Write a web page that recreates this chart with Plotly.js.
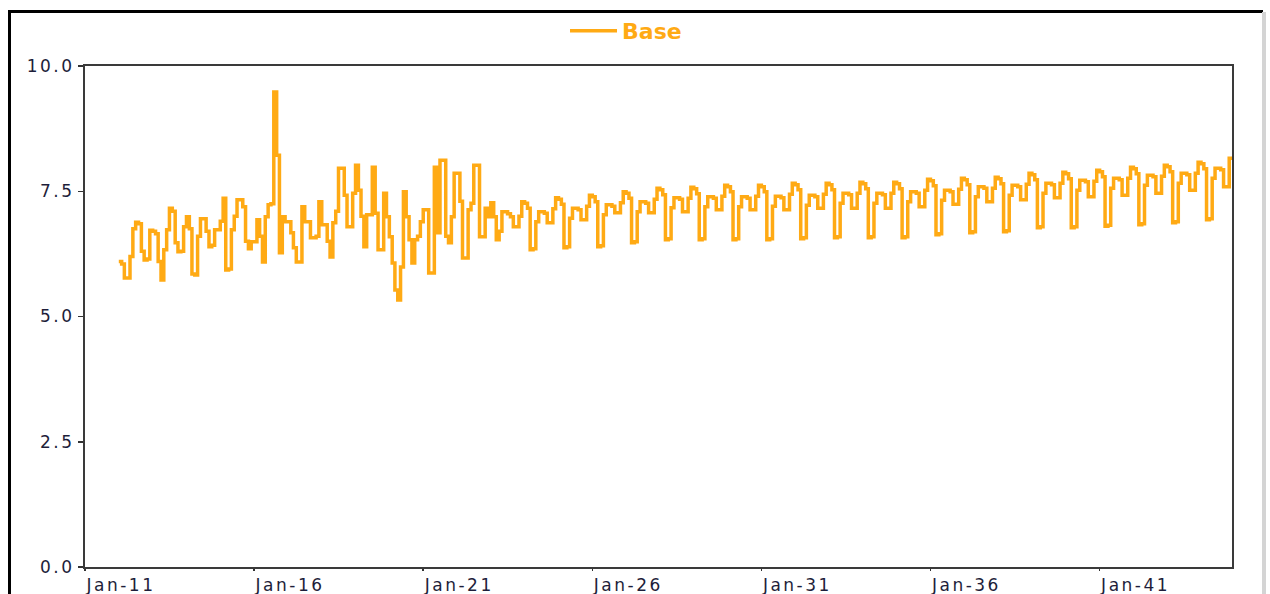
<!DOCTYPE html>
<html>
<head>
<meta charset="utf-8">
<script src="https://cdn.plot.ly/plotly-3.0.1.min.js"></script>
<style>
  html, body { margin: 0; padding: 0; background: #fff; }
  #wrap { position: relative; width: 1270px; height: 594px; overflow: hidden; }
  #chart { position: absolute; left: 0; top: 0; width: 1270px; height: 594px; }
  #frame { position: absolute; left: 8px; top: 10px; width: 1252px; height: 600px;
           border-left: 3px solid #000; border-top: 3px solid #000; pointer-events: none; }
  #edge { position: absolute; left: 1262px; top: 12px; width: 4px; height: 600px;
          background: #d4d4d4; pointer-events: none; }
  #chart .xtick text, #chart .ytick text { letter-spacing: 2.5px; }
</style>
</head>
<body>
<div id="wrap">
  <div id="chart"></div>
  <div id="frame"></div>
  <div id="edge"></div>
</div>
<script>
// Monthly values (Jan..Dec) of series "Base"
const seriesName = "Base";
const y2012 = [6.10, 6.05, 5.77, 5.77, 6.20, 6.75, 6.88, 6.85, 6.30, 6.13, 6.15, 6.72];
const y2013 = [6.70, 6.65, 6.10, 5.73, 6.33, 6.73, 7.16, 7.10, 6.47, 6.29, 6.30, 6.79];
const y2014 = [6.99, 6.75, 5.85, 5.83, 6.60, 6.95, 6.95, 6.70, 6.39, 6.42, 6.73, 6.73];
const y2015 = [6.90, 7.36, 5.93, 5.95, 6.73, 7.00, 7.33, 7.33, 7.19, 6.50, 6.35, 6.49];
const y2016 = [6.49, 6.93, 6.60, 6.09, 6.99, 7.23, 7.25, 9.48, 8.22, 6.27, 6.99, 6.89];
const y2017 = [6.89, 6.67, 6.37, 6.09, 6.09, 7.19, 6.89, 6.89, 6.57, 6.57, 6.60, 7.29];
const y2018 = [6.83, 6.83, 6.50, 6.19, 6.87, 7.10, 7.96, 7.96, 7.42, 6.79, 6.79, 7.46];
const y2019 = [8.02, 7.52, 7.00, 6.39, 7.03, 7.03, 7.98, 7.06, 6.33, 6.33, 7.46, 6.99];
const y2020 = [6.59, 6.07, 5.53, 5.33, 5.99, 7.49, 6.99, 6.53, 6.07, 6.53, 6.60, 6.89];
const y2021 = [7.13, 7.13, 5.87, 5.87, 7.98, 6.67, 8.12, 8.12, 6.60, 6.47, 6.99, 7.86];
const y2022 = [7.86, 7.30, 6.17, 6.17, 7.13, 7.26, 8.02, 8.02, 6.59, 6.59, 7.16, 6.99];
const y2023 = [7.27, 6.99, 6.53, 6.70, 7.09, 7.09, 7.05, 6.99, 6.79, 6.79, 7.00, 7.29];
const y2024 = [7.26, 7.16, 6.33, 6.35, 6.89, 7.09, 7.09, 7.06, 6.87, 6.87, 7.15, 7.37];
const y2025 = [7.34, 7.24, 6.37, 6.39, 6.96, 7.16, 7.16, 7.13, 6.93, 6.93, 7.20, 7.42];
const y2026 = [7.39, 7.29, 6.39, 6.41, 7.03, 7.23, 7.23, 7.20, 7.07, 7.07, 7.27, 7.49];
const y2027 = [7.46, 7.36, 6.47, 6.49, 7.09, 7.29, 7.29, 7.26, 7.07, 7.07, 7.34, 7.56];
const y2028 = [7.53, 7.43, 6.53, 6.55, 7.17, 7.37, 7.37, 7.34, 7.09, 7.09, 7.36, 7.58];
const y2029 = [7.55, 7.45, 6.53, 6.55, 7.19, 7.39, 7.39, 7.36, 7.13, 7.13, 7.40, 7.62];
const y2030 = [7.59, 7.49, 6.53, 6.55, 7.19, 7.39, 7.39, 7.36, 7.13, 7.13, 7.40, 7.62];
const y2031 = [7.59, 7.49, 6.53, 6.55, 7.20, 7.40, 7.40, 7.37, 7.13, 7.13, 7.44, 7.66];
const y2032 = [7.63, 7.53, 6.55, 6.57, 7.22, 7.42, 7.42, 7.39, 7.16, 7.16, 7.44, 7.66];
const y2033 = [7.63, 7.53, 6.57, 6.59, 7.26, 7.46, 7.46, 7.43, 7.16, 7.16, 7.46, 7.68];
const y2034 = [7.65, 7.55, 6.57, 6.59, 7.26, 7.46, 7.46, 7.43, 7.16, 7.16, 7.46, 7.68];
const y2035 = [7.65, 7.55, 6.57, 6.59, 7.29, 7.49, 7.49, 7.46, 7.19, 7.19, 7.52, 7.74];
const y2036 = [7.71, 7.61, 6.63, 6.65, 7.32, 7.52, 7.52, 7.49, 7.24, 7.24, 7.54, 7.76];
const y2037 = [7.73, 7.63, 6.67, 6.69, 7.39, 7.59, 7.59, 7.56, 7.29, 7.29, 7.56, 7.78];
const y2038 = [7.75, 7.65, 6.69, 6.71, 7.42, 7.62, 7.62, 7.59, 7.33, 7.33, 7.64, 7.86];
const y2039 = [7.83, 7.73, 6.77, 6.79, 7.46, 7.66, 7.66, 7.63, 7.37, 7.37, 7.66, 7.88];
const y2040 = [7.85, 7.75, 6.77, 6.79, 7.52, 7.72, 7.72, 7.69, 7.39, 7.39, 7.70, 7.92];
const y2041 = [7.89, 7.79, 6.80, 6.82, 7.56, 7.76, 7.76, 7.73, 7.42, 7.42, 7.76, 7.98];
const y2042 = [7.95, 7.85, 6.83, 6.85, 7.62, 7.82, 7.82, 7.79, 7.46, 7.46, 7.80, 8.02];
const y2043 = [7.99, 7.89, 6.87, 6.89, 7.66, 7.86, 7.86, 7.83, 7.52, 7.52, 7.86, 8.08];
const y2044 = [8.05, 7.95, 6.93, 6.95, 7.76, 7.96, 7.96, 7.93, 7.59, 7.59, 8.16, 8.16];

const years = [2012, 2013, 2014, 2015, 2016, 2017, 2018, 2019, 2020, 2021, 2022,
               2023, 2024, 2025, 2026, 2027, 2028, 2029, 2030, 2031, 2032, 2033,
               2034, 2035, 2036, 2037, 2038, 2039, 2040, 2041, 2042, 2043, 2044];
const yearValues = [y2012, y2013, y2014, y2015, y2016, y2017, y2018, y2019, y2020, y2021, y2022,
                    y2023, y2024, y2025, y2026, y2027, y2028, y2029, y2030, y2031, y2032, y2033,
                    y2034, y2035, y2036, y2037, y2038, y2039, y2040, y2041, y2042, y2043, y2044];
const yTickVals = [0, 2.5, 5, 7.5, 10];

const xs = [], ys = [];
years.forEach((yr, k) => {
  yearValues[k].forEach((v, m) => {
    xs.push(yr + "-" + String(m + 1).padStart(2, "0") + "-01");
    ys.push(v);
  });
});

const orange = "#FFAA14";
const tickFont = { family: "DejaVu Sans, sans-serif", size: 17, color: "#1e1e3a" };

Plotly.newPlot("chart", [{
  x: xs, y: ys, type: "scatter", mode: "lines", name: seriesName,
  line: { color: orange, width: 3.5, shape: "hv" }
}], {
  width: 1270, height: 594,
  margin: { l: 85, r: 38, t: 66, b: 27, autoexpand: false },
  paper_bgcolor: "#fff", plot_bgcolor: "#fff",
  showlegend: true,
  legend: {
    orientation: "h", x: 0.4185, xanchor: "left", y: 1.07, yanchor: "middle",
    itemwidth: 47,
    font: { family: "DejaVu Sans, sans-serif", size: 22, color: orange, weight: "bold" },
    bgcolor: "rgba(0,0,0,0)"
  },
  xaxis: {
    type: "date", range: ["2011-01-01", "2044-12-01"],
    tick0: "2011-01-01", dtick: "M60", tickformat: "%b-%y",
    ticks: "outside", ticklen: 2, tickcolor: "#333", tickwidth: 1.5,
    showgrid: false, zeroline: false,
    showline: true, mirror: true, linecolor: "#3a3a3a", linewidth: 2,
    tickfont: tickFont, ticklabelshift: 36
  },
  yaxis: {
    range: [0, 10], tickvals: yTickVals, tickformat: ".1f",
    ticks: "outside", ticklen: 5, tickcolor: "#333", tickwidth: 1.5,
    showgrid: false, zeroline: false,
    showline: true, mirror: true, linecolor: "#3a3a3a", linewidth: 2,
    tickfont: tickFont
  }
}, { displayModeBar: false, staticPlot: true });
</script>
</body>
</html>
